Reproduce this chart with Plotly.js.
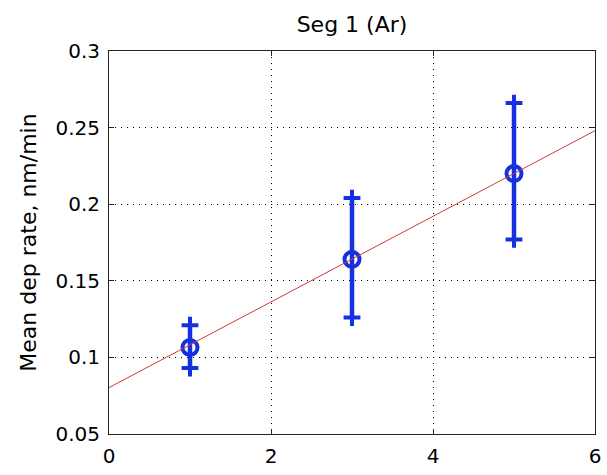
<!DOCTYPE html>
<html>
<head>
<meta charset="utf-8">
<script src="https://cdn.plot.ly/plotly-3.0.1.min.js"></script>
<style>html,body{margin:0;padding:0;background:#fff;}#chart{width:607px;height:475px;}</style>
</head>
<body>
<div id="chart"></div>
<script>
// Data
const ptX = [1, 3, 5];
const ptY = [0.1065, 0.164, 0.220];
const errPlus = [0.0145, 0.040, 0.046];
const errMinus = [0.0135, 0.038, 0.043];
const fitX = [0, 6];
const fitY = [0.0803, 0.248];
const xTicks = [0, 2, 4, 6];
const yTicks = [0.05, 0.1, 0.15, 0.2, 0.25, 0.3];
const yTickText = ['0.05', '0.1', '0.15', '0.2', '0.25', '0.3'];

const FONT = 'DejaVu Sans, Liberation Sans, Arial, sans-serif';
const BLUE = '#1530e0';

// error-bar end positions derived from the data arrays
const capX = ptX.concat(ptX);
const capY = ptY.map((v, i) => v + errPlus[i]).concat(ptY.map((v, i) => v - errMinus[i]));

const traces = [
  {
    x: ptX, y: ptY, type: 'scatter', mode: 'markers',
    marker: {symbol: 'circle-open', size: 15, color: BLUE, line: {width: 4, color: BLUE}},
    error_y: {type: 'data', symmetric: false, array: errPlus, arrayminus: errMinus,
              color: BLUE, thickness: 4.5, width: 0},
    showlegend: false, hoverinfo: 'skip'
  },
  {
    x: capX, y: capY, type: 'scatter', mode: 'markers',
    marker: {symbol: 'cross-thin', size: 12, color: BLUE, line: {width: 4, color: BLUE}},
    showlegend: false, hoverinfo: 'skip'
  },
  {
    x: fitX, y: fitY, type: 'scatter', mode: 'lines',
    line: {color: '#cc3a3a', width: 1},
    showlegend: false, hoverinfo: 'skip'
  }
];

const axisCommon = {
  showline: true, linecolor: '#222', linewidth: 1, mirror: 'ticks',
  ticks: 'inside', ticklen: 5, tickcolor: '#222', tickwidth: 1,
  showgrid: true, gridcolor: '#000', gridwidth: 1, griddash: '1px,5px',
  zeroline: false, tickfont: {family: FONT, size: 20, color: '#000'}
};

const layout = {
  width: 607, height: 475,
  margin: {l: 109, r: 12, t: 51, b: 41},
  paper_bgcolor: '#fff', plot_bgcolor: '#fff',
  title: {text: 'Seg 1 (Ar)', font: {family: FONT, size: 22, color: '#000'},
          x: 0.5, xref: 'paper', y: 0.948, yref: 'container', yanchor: 'middle'},
  xaxis: Object.assign({}, axisCommon, {
    range: [0, 6], tickvals: xTicks, ticktext: xTicks.map(String), ticklabelstandoff: 4
  }),
  yaxis: Object.assign({}, axisCommon, {
    range: [0.05, 0.3], tickvals: yTicks, ticktext: yTickText, ticklabelstandoff: 4,
    title: {text: 'Mean dep rate, nm/min', font: {family: FONT, size: 22, color: '#000'}, standoff: 12}
  })
};

Plotly.newPlot('chart', traces, layout, {staticPlot: true, displayModeBar: false});
</script>
</body>
</html>
